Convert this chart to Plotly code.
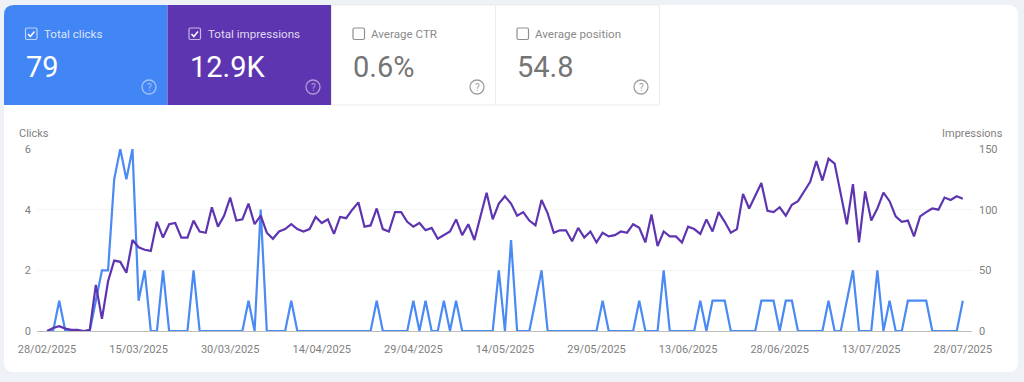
import pandas as pd
import plotly.graph_objects as go

START_DATE = "2025-02-28"
clicks = [0,0,1,0,0,0,0,0,1,2,2,5,6,5,6,1,2,0,0,2,0,0,0,0,2,0,0,0,0,0,0,0,0,1,0,4,0,0,0,0,
          1,0,0,0,0,0,0,0,0,0,0,0,0,0,1,0,0,0,0,0,1,0,1,0,0,1,0,1,0,0,0,0,0,0,2,0,3,0,0,0,
          1,2,0,0,0,0,0,0,0,0,0,1,0,0,0,0,0,1,0,0,0,2,0,0,0,0,0,1,0,1,1,1,0,0,0,0,0,1,1,1,
          0,1,1,0,0,0,0,0,1,0,0,1,2,0,0,0,2,0,1,0,0,1,1,1,1,0,0,0,0,0,1]
impressions = [0,2.5,4,2,1,1,0,1,38,10,41,58,57,48,75,69,67,66,90,77,88,89,77,77,91,82,81,102,86,95,
               110,91,92,105,88,95,81,76,82,84,88,84,82,84,94,89,92,80,94,93,100,106,86,87,101,84,82,98,98,90,
               86,89,83,85,76,79,82,92,79,88,75,94.5,114,92,105,111,105,95,98,91,87,108,97,81,83,83,74,85,77,82,
               73,81,78,79,82,81,88,85,73,96,70,82,78,78,73,86,84,80,92,82,98,90,81,84,113,101,111.5,122,99,98,
               102,95,104,107,115,123,140,124,142,138,113,88,121,73,115,91,101,114,107,94.5,90,91,78,94.5,98,101,100,110,108,111,109]
x_tick_dates = ["2025-02-28","2025-03-15","2025-03-30","2025-04-14","2025-04-29","2025-05-14",
                "2025-05-29","2025-06-13","2025-06-28","2025-07-13","2025-07-28"]
x_tick_text = ["28/02/2025","15/03/2025","30/03/2025","14/04/2025","29/04/2025","14/05/2025",
               "29/05/2025","13/06/2025","28/06/2025","13/07/2025","28/07/2025"]
cards = [("Total clicks","79"),("Total impressions","12.9K"),("Average CTR","0.6%"),("Average position","54.8")]

dates = pd.date_range(START_DATE, periods=len(clicks), freq="D")

W,H = 1024,382
L,R,T,B = 37,972,149,331
FONT = "Roboto"
GREY = "#7f7f7f"
px = lambda x:(x-L)/(R-L)
py = lambda y:(B-y)/(B-T)

def rrect(x0,y0,x1,y1,tl=0,tr=0,br=0,bl=0):
    X,Y=px,py
    return (f"M {X(x0+tl)} {Y(y0)} L {X(x1-tr)} {Y(y0)} Q {X(x1)} {Y(y0)} {X(x1)} {Y(y0+tr)} "
            f"L {X(x1)} {Y(y1-br)} Q {X(x1)} {Y(y1)} {X(x1-br)} {Y(y1)} "
            f"L {X(x0+bl)} {Y(y1)} Q {X(x0)} {Y(y1)} {X(x0)} {Y(y1-bl)} "
            f"L {X(x0)} {Y(y0+tl)} Q {X(x0)} {Y(y0)} {X(x0+tl)} {Y(y0)} Z")

shapes=[]; ann=[]
def shape_path(path,fill="rgba(0,0,0,0)",line=None,lw=1,layer="below"):
    shapes.append(dict(type="path",xref="paper",yref="paper",path=path,fillcolor=fill,
                       line=dict(color=line or "rgba(0,0,0,0)",width=lw),layer=layer))
def text(x,y,s,size,color,anchor="left"):
    ann.append(dict(xref="paper",yref="paper",x=px(x),y=py(y),text=s,showarrow=False,xanchor=anchor,yanchor="middle",
                    font=dict(family=FONT,size=size,color=color),borderpad=0))

# white panel
shape_path(rrect(4,5,1018,372,10,10,10,10),fill="#ffffff")
# cards
card_x=[4,167.5,331.5,495.5,659.5]
fills=["#4285f4","#5e35b1",None,None]
for i,(label,val) in enumerate(cards):
    x0,x1=card_x[i],card_x[i+1]
    active=fills[i] is not None
    if active:
        shape_path(rrect(x0,5,x1,105,tl=10 if i==0 else 0),fill=fills[i])
    else:
        shape_path(rrect(x0,5,x1,105),fill="#ffffff",line="#ebebeb",lw=1)
    tc="rgba(255,255,255,0.82)" if active else "#8a8a8a"
    vc="#ffffff" if active else "#757575"
    bx=x0+21.5
    shape_path(rrect(bx,28,bx+11.5,39.5,1.5,1.5,1.5,1.5),line="rgba(255,255,255,0.65)" if active else "#8f8f8f",lw=1.2,layer="above")
    if active:
        X,Y=px,py
        shape_path(f"M {X(bx+2.5)} {Y(34)} L {X(bx+4.8)} {Y(36.5)} L {X(bx+9)} {Y(31.5)}",line="#ffffff",lw=1.5,layer="above")
    text(x0+(39 if active else 38),34,label,11.6,tc)
    text(x0+(21 if active else 21.5)-(0 if active else 1),66.5,val,29,vc)
    # help icon
    cx,cy=x1-18.5,87
    r=7
    ic="rgba(255,255,255,0.5)" if active else "#9e9e9e"
    shapes.append(dict(type="circle",xref="paper",yref="paper",x0=px(cx-r),x1=px(cx+r),y0=py(cy+r),y1=py(cy-r),
                       line=dict(color=ic,width=1.3),layer="above"))
    text(cx,cy,"?",10,ic,"center")

# axis titles
text(18,133,"Clicks",11,GREY)
text(1004,133,"Impressions",11,GREY,"right")

fig=go.Figure()
fig.add_trace(go.Scatter(x=dates,y=clicks,name="Clicks",mode="lines",line=dict(color="#4a8af4",width=2.2),cliponaxis=False,yaxis="y"))
fig.add_trace(go.Scatter(x=dates,y=impressions,name="Impressions",mode="lines",line=dict(color="#5e35b1",width=2.2),cliponaxis=False,yaxis="y2"))
tick=dict(family=FONT,size=11,color=GREY)
fig.update_layout(
    width=W,height=H,autosize=False,showlegend=False,
    margin=dict(l=L,r=W-R,t=T,b=H-B,pad=0),
    paper_bgcolor="#eef1f6",plot_bgcolor="rgba(0,0,0,0)",
    xaxis=dict(type="date",range=["2025-02-26 08:38","2025-07-29 12:00"],tickmode="array",
               tickvals=x_tick_dates,ticktext=x_tick_text,showgrid=False,zeroline=False,showline=True,
               linecolor="#bdbdbd",linewidth=1,tickfont=tick,ticks="",ticklabelstandoff=8),
    yaxis=dict(range=[0,6],tickvals=[0,2,4,6],showgrid=True,gridcolor="#f4f4f4",zeroline=False,tickfont=tick,ticks="",ticklabelstandoff=5,showline=False),
    yaxis2=dict(range=[0,150],tickvals=[0,50,100,150],overlaying="y",side="right",showgrid=False,zeroline=False,tickfont=tick,ticks="",ticklabelstandoff=6,showline=False),
    shapes=shapes,annotations=ann,
)
fig.write_html("out.html",config={"displayModeBar":False},
               post_script="document.body.style.margin='0';document.body.style.background='#eef1f6';document.documentElement.style.overflow='hidden';")
